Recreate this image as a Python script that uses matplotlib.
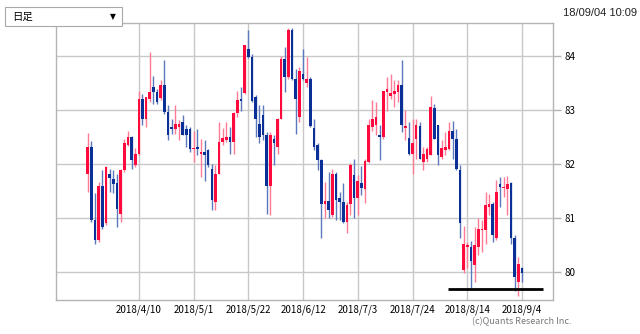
import matplotlib
matplotlib.use('Agg')
import matplotlib.pyplot as plt
import pandas as pd
from matplotlib.patches import Rectangle

plt.rcParams['font.family'] = ['Noto Sans CJK JP', 'DejaVu Sans']

# daily USD/JPY candles (open, high, low, close)
opens = [81.82, 82.31, 80.96, 80.59, 81.60, 80.90, 81.82, 81.72, 81.64, 81.08,
         81.88, 82.35, 82.50, 81.98, 82.19, 83.20, 82.84, 83.20, 83.43, 83.33,
         83.22, 83.46, 82.96, 82.69, 82.65, 82.69, 82.78, 82.65, 82.64, 82.27,
         82.31, 82.18, 82.23, 82.25, 81.90, 81.30, 81.82, 82.40, 82.44, 82.50,
         82.40, 82.95, 83.21, 83.32, 84.14, 83.98, 83.25, 82.75, 82.90, 82.53,
         81.60, 82.47, 82.31, 82.84, 83.95, 83.61, 84.48, 83.58, 82.87, 83.67,
         83.51, 83.57, 82.67, 82.36, 82.07, 81.25, 81.31, 81.05, 81.82, 81.37,
         81.30, 80.93, 81.25, 81.80, 81.36, 81.64, 81.54, 82.04, 82.68, 82.72,
         82.53, 82.50, 83.33, 83.27, 83.30, 83.33, 83.47, 82.67, 82.48, 82.19,
         82.47, 82.70, 82.04, 82.10, 82.16, 83.04, 82.72, 82.13, 82.25, 82.27,
         82.62, 82.46, 81.88, 80.03, 80.46, 80.45, 80.12, 80.46, 80.77, 80.77,
         81.20, 81.25, 80.62, 81.63, 81.55, 81.54, 81.64, 80.62, 79.81, 80.07]
highs = [82.57, 82.43, 81.47, 81.67, 81.88, 81.96, 81.91, 81.88, 81.82, 81.91,
         82.47, 82.62, 82.52, 82.30, 83.36, 83.30, 83.24, 84.07, 83.64, 83.40,
         83.55, 83.93, 83.09, 82.84, 83.09, 82.81, 82.90, 82.72, 82.69, 82.62,
         82.65, 82.47, 82.45, 82.28, 82.00, 81.98, 82.78, 82.67, 82.78, 82.69,
         82.97, 83.36, 83.43, 84.21, 84.48, 84.04, 83.28, 83.09, 83.09, 82.59,
         82.59, 82.53, 82.86, 84.01, 84.17, 84.52, 84.52, 83.77, 83.80, 84.14,
         83.98, 83.61, 82.84, 82.38, 82.10, 81.67, 81.85, 81.91, 81.85, 81.48,
         81.64, 81.30, 82.01, 82.10, 81.79, 81.96, 82.10, 82.84, 83.18, 83.15,
         82.72, 83.36, 83.61, 83.67, 83.55, 83.55, 83.92, 83.00, 82.78, 82.84,
         82.84, 82.78, 82.31, 82.31, 83.26, 83.12, 82.72, 82.44, 82.59, 82.78,
         82.79, 82.65, 81.98, 80.85, 80.56, 80.57, 80.83, 80.99, 80.96, 81.48,
         81.45, 81.30, 81.70, 81.76, 81.76, 81.78, 81.67, 80.68, 80.28, 80.09]
lows = [81.48, 80.93, 80.52, 80.56, 80.80, 80.86, 81.48, 81.47, 80.83, 80.93,
        81.85, 82.33, 81.91, 81.95, 82.16, 82.72, 82.69, 83.15, 83.12, 83.12,
        83.18, 82.93, 82.44, 82.56, 82.56, 82.44, 82.53, 82.31, 82.22, 82.04,
        82.16, 81.76, 81.68, 81.94, 81.14, 81.14, 81.82, 82.36, 82.40, 82.19,
        82.19, 82.87, 82.99, 83.30, 83.96, 83.15, 82.50, 82.38, 82.44, 81.08,
        81.05, 81.98, 82.19, 82.84, 83.33, 83.58, 83.55, 82.56, 82.78, 83.55,
        83.43, 82.69, 82.25, 81.88, 80.62, 80.99, 80.99, 81.02, 80.96, 80.96,
        80.90, 80.71, 81.05, 80.99, 81.05, 81.43, 81.27, 82.01, 82.62, 82.53,
        82.07, 82.47, 82.99, 83.21, 83.05, 83.15, 82.59, 82.44, 82.16, 81.82,
        82.09, 82.09, 81.88, 82.04, 82.16, 82.47, 81.98, 82.10, 82.16, 82.25,
        82.09, 81.88, 80.62, 79.97, 80.06, 79.69, 79.81, 80.31, 80.37, 80.52,
        81.05, 80.56, 80.59, 81.20, 81.39, 81.05, 80.51, 79.64, 79.54, 79.81]
closes = [82.31, 80.96, 80.59, 81.60, 80.83, 81.94, 81.73, 81.62, 81.17, 81.88,
          82.38, 82.50, 82.07, 82.19, 83.20, 82.84, 83.24, 83.33, 83.33, 83.15,
          83.46, 82.96, 82.53, 82.64, 82.75, 82.75, 82.54, 82.53, 82.28, 82.30,
          82.27, 82.22, 82.17, 81.98, 81.33, 81.82, 82.41, 82.48, 82.50, 82.41,
          82.95, 83.18, 83.17, 84.20, 83.98, 83.17, 82.84, 82.50, 82.53, 81.60,
          82.53, 82.38, 82.84, 83.95, 83.61, 84.48, 83.58, 83.21, 83.73, 83.58,
          83.58, 82.70, 82.31, 82.07, 81.25, 81.31, 81.14, 81.82, 81.33, 81.30,
          80.93, 81.23, 81.98, 81.36, 81.68, 81.56, 82.06, 82.73, 82.83, 82.87,
          82.50, 83.35, 83.39, 83.32, 83.35, 83.47, 82.72, 82.70, 82.19, 82.38,
          82.72, 82.10, 82.19, 82.28, 83.06, 82.47, 82.17, 82.30, 82.31, 82.62,
          82.47, 81.91, 80.90, 80.52, 80.49, 80.19, 80.49, 80.80, 80.80, 81.23,
          81.26, 80.68, 81.48, 81.58, 81.58, 81.63, 80.62, 79.91, 80.15, 79.97]

dates = pd.bdate_range('2018-03-21', periods=len(opens))
tick_dates = ['2018-04-10', '2018-05-01', '2018-05-22', '2018-06-12',
              '2018-07-03', '2018-07-24', '2018-08-14', '2018-09-04']
support_level = 79.67

up_body, up_wick = '#ff0a3c', '#ff7a95'
dn_body, dn_wick = '#0a2f96', '#5c78bc'

fig = plt.figure(figsize=(6.4, 3.34), dpi=100)
ax = fig.add_axes([0.0875, 0.1018, 0.7766, 0.830])

x = list(range(len(opens)))
for i in x:
    o, h, l, c = opens[i], highs[i], lows[i], closes[i]
    up = c >= o
    ax.vlines(i, l, h, color=up_wick if up else dn_wick, linewidth=1.0, zorder=2)
    bottom = min(o, c)
    height = max(abs(c - o), 0.03)
    ax.add_patch(Rectangle((i - 0.36, bottom), 0.72, height,
                           facecolor=up_body if up else dn_body,
                           edgecolor='none', zorder=3))

# support line near the recent low
ax.plot([98.7, 124.7], [support_level, support_level], color='black',
        linewidth=2.0, zorder=4, solid_capstyle='butt')

tick_pos = [list(dates).index(pd.Timestamp(d)) for d in tick_dates]
tick_lab = [pd.Timestamp(d).strftime('%Y/%-m/%-d') for d in tick_dates]
ax.set_xticks(tick_pos)
ax.set_xticklabels(tick_lab, fontsize=7)
ax.set_xlim(-8.7, 127.5)
ax.set_ylim(79.475, 84.62)
ax.set_yticks([80, 81, 82, 83, 84])
ax.yaxis.tick_right()
ax.tick_params(axis='y', direction='out', length=6, color='#b4b4b4',
               width=1, labelsize=7, pad=2)
ax.tick_params(axis='x', length=0, labelsize=7, pad=3)
ax.grid(True, color='#c8c8c8', linewidth=1.0, zorder=0)
ax.set_axisbelow(True)
for s in ax.spines.values():
    s.set_color('#b4b4b4')
    s.set_linewidth(1.0)

# header: dropdown box and timestamp
fig.patches.append(Rectangle((5 / 640, 1 - 26 / 334), 117 / 640, 19 / 334,
                             transform=fig.transFigure, facecolor='white',
                             edgecolor='#a8a8a8', linewidth=0.8))
fig.text(12 / 640, 1 - 16.5 / 334, '日足', fontsize=7.5, va='center', ha='left')
fig.text(113 / 640, 1 - 16.5 / 334, '▼', fontsize=5.5, va='center', ha='center',
         family=['DejaVu Sans'])
fig.text(637 / 640, 1 - 13 / 334, '18/09/04 10:09', fontsize=8,
         va='center', ha='right', color='#222222', family=['Liberation Sans'])
fig.text(572 / 640, 1 - 322 / 334, '(c)Quants Research Inc.', fontsize=6.5,
         va='center', ha='right', color='#777777')

fig.savefig('out.png', dpi=100)
